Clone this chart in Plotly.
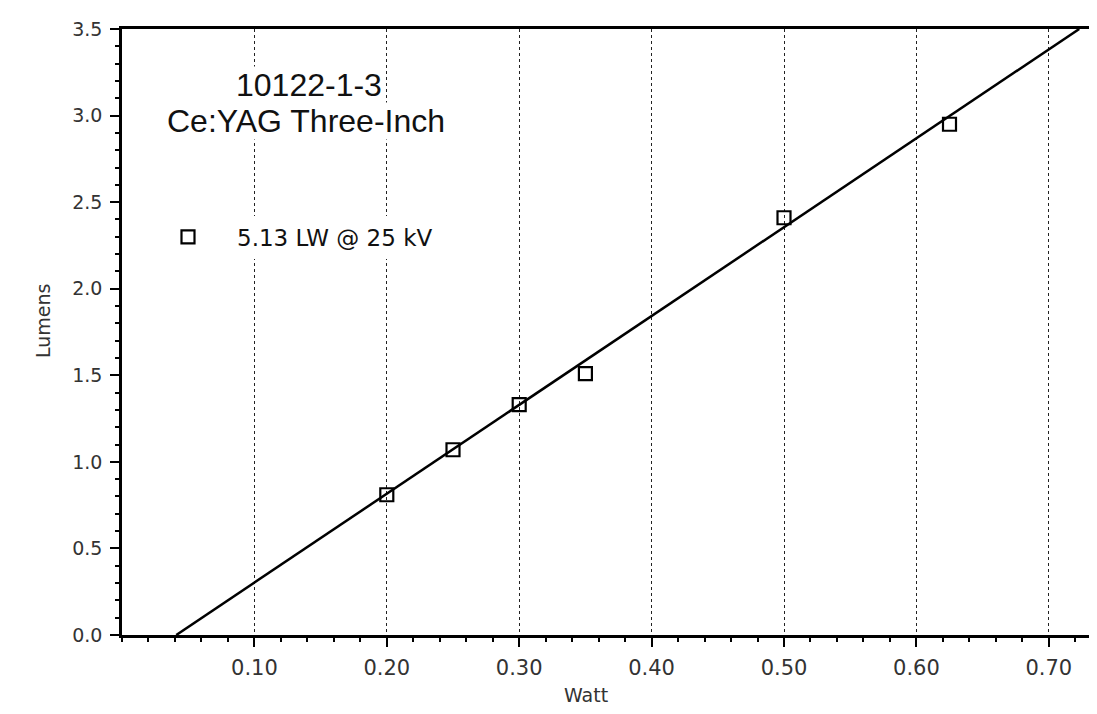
import plotly.graph_objects as go

# Measured data
watt = [0.20, 0.25, 0.30, 0.35, 0.50, 0.625]
lumens = [0.81, 1.07, 1.33, 1.51, 2.41, 2.95]

# Fitted line (5.13 LW) endpoints
fit_x = [0.041, 0.723]
fit_y = [0.0, 3.5]

x_ticks = [0.10, 0.20, 0.30, 0.40, 0.50, 0.60, 0.70]
x_tick_labels = ["0.10", "0.20", "0.30", "0.40", "0.50", "0.60", "0.70"]
y_ticks = [0.0, 0.5, 1.0, 1.5, 2.0, 2.5, 3.0, 3.5]
y_tick_labels = ["0.0", "0.5", "1.0", "1.5", "2.0", "2.5", "3.0", "3.5"]

TICKFONT = "DejaVu Sans, Liberation Sans, sans-serif"
TITLEFONT = "Liberation Sans, Arial, sans-serif"

fig = go.Figure()
fig.add_trace(go.Scatter(
    x=fit_x, y=fit_y, mode="lines",
    line=dict(color="black", width=2.5),
    showlegend=False, hoverinfo="skip",
))
fig.add_trace(go.Scatter(
    x=watt, y=lumens, mode="markers",
    name="5.13 LW @ 25 kV",
    marker=dict(symbol="square-open", size=13, color="black", line=dict(width=2.2, color="black")),
))

L, T, B = 114, 21, 87
W, H = 1097, 714
PW, PH = W - L, H - T - B

def px(xp):
    return (xp - L) / PW

def py(yp):
    return (H - B - yp) / PH

fig.update_layout(
    width=W, height=H,
    margin=dict(l=L, r=0, t=T, b=B),
    paper_bgcolor="white", plot_bgcolor="white",
    font=dict(family=TICKFONT, color="#222"),
    legend=dict(
        x=px(131), y=py(229), xanchor="left", yanchor="middle",
        bgcolor="white", borderwidth=0,
        font=dict(size=23, family=TICKFONT, color="#111"),
        itemwidth=88,
    ),
    showlegend=True,
)

fig.update_xaxes(
    range=[0, (W - L) / 1324],
    tickvals=x_ticks, ticktext=x_tick_labels,
    ticks="outside", ticklen=9, tickwidth=2, tickcolor="black",
    minor=dict(dtick=0.02, ticks="outside", ticklen=4, tickwidth=1.5, tickcolor="black", showgrid=False),
    showline=True, linecolor="black", linewidth=2.5, mirror=True,
    showgrid=True, gridcolor="#222", griddash="dot", gridwidth=1,
    zeroline=False,
    ticklabelstandoff=3,
    tickfont=dict(size=21, color="#333", family=TICKFONT),
)
fig.update_yaxes(
    range=[0, 3.5],
    tickvals=y_ticks, ticktext=y_tick_labels,
    ticks="outside", ticklen=9, tickwidth=2, tickcolor="black",
    minor=dict(dtick=0.1, ticks="outside", ticklen=4, tickwidth=1.5, tickcolor="black", showgrid=False),
    showline=True, linecolor="black", linewidth=2.5,
    showgrid=False, zeroline=False,
    ticklabelstandoff=4,
    tickfont=dict(size=19, color="#333", family=TICKFONT),
)

annotations = [
    dict(text="10122-1-3", x=px(301), y=py(77)),
    dict(text="Ce:YAG Three-Inch", x=px(298), y=py(113)),
]
for a in annotations:
    fig.add_annotation(xref="paper", yref="paper", xanchor="center", yanchor="middle",
                       showarrow=False, bgcolor="white", borderpad=0,
                       font=dict(size=32, color="#111", family=TITLEFONT), **a)

fig.add_annotation(text="Watt", xref="paper", yref="paper", x=px(578), y=py(700),
                   showarrow=False, font=dict(size=19, color="#333", family=TICKFONT))
fig.add_annotation(text="Lumens", xref="paper", yref="paper", x=px(22), y=py(313),
                   textangle=-90, showarrow=False, font=dict(size=19, color="#333", family=TICKFONT))

fig.write_html("out.html")
